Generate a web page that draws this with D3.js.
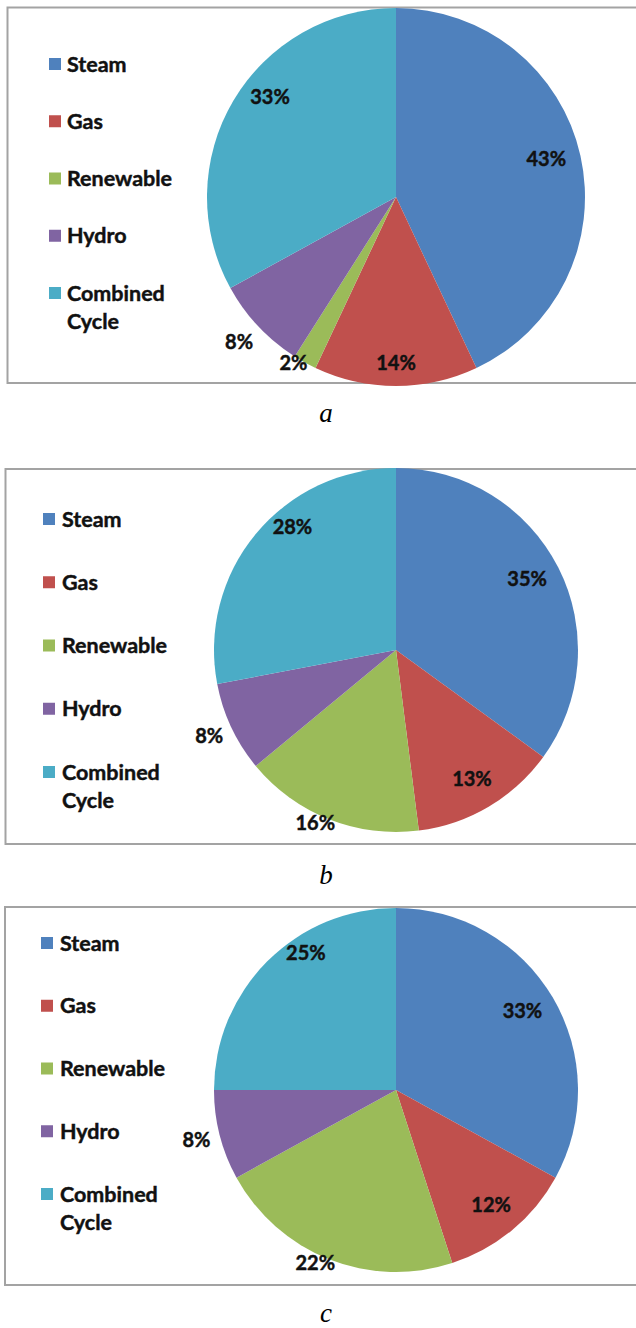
<!DOCTYPE html>
<html>
<head>
<meta charset="utf-8">
<script src="https://cdn.jsdelivr.net/npm/d3@7"></script>
<style>
  html, body { margin: 0; padding: 0; background: #fff; }
  svg { display: block; }
</style>
</head>
<body>
<svg id="chart" width="636" height="1328"></svg>
<script>
// ---- data ----
const categories = ["Steam", "Gas", "Renewable", "Hydro", "Combined Cycle"];
const valuesA = [43, 14, 2, 8, 33];
const valuesB = [35, 13, 16, 8, 28];
const valuesC = [33, 12, 22, 8, 25];
const panelCaptions = ["a", "b", "c"];
const colors = ["#4F81BD", "#C0504D", "#9BBB59", "#8064A2", "#4BACC6"];

// ---- layout ----
const panels = [
  { values: valuesA, frameX: 7.5, frameY: 7.5, frameY2: 383, cx: 396, cy: 197, r: 189,
    legSqX: 49, legTextX: 67, legY0: 64, legStep: 57.25, capY: 422 },
  { values: valuesB, frameX: 5.5, frameY: 469, frameY2: 844, cx: 396, cy: 650, r: 182,
    legSqX: 43, legTextX: 62, legY0: 519, legStep: 63.25, capY: 884 },
  { values: valuesC, frameX: 5, frameY: 907, frameY2: 1285, cx: 396, cy: 1090, r: 182,
    legSqX: 41, legTextX: 60, legY0: 943, legStep: 62.75, capY: 1322 }
];

const svg = d3.select("#chart");
const color = d3.scaleOrdinal().domain(categories).range(colors);
const pie = d3.pie().sort(null).value(d => d.value);
const fontStack = "Lato, 'Open Sans', sans-serif";

panels.forEach((p, pi) => {
  const g = svg.append("g");
  // frame (right edge runs off the page)
  g.append("rect")
    .attr("x", p.frameX).attr("y", p.frameY)
    .attr("width", 660).attr("height", p.frameY2 - p.frameY)
    .attr("fill", "#fff").attr("stroke", "#A3A3A3").attr("stroke-width", 2);

  const data = categories.map((c, i) => ({ name: c, value: p.values[i] }));
  const arcs = pie(data);
  const arc = d3.arc().innerRadius(0).outerRadius(p.r);
  const pg = g.append("g").attr("transform", `translate(${p.cx},${p.cy})`);
  pg.selectAll("path").data(arcs).join("path")
    .attr("d", arc)
    .attr("fill", d => color(d.data.name));

  // labels (Excel "best fit"-like rule)
  const total = d3.sum(p.values);
  pg.selectAll("text.lbl").data(arcs).join("text")
    .attr("class", "lbl")
    .each(function (d) {
      const frac = d.data.value / total;
      let m = (d.startAngle + d.endAngle) / 2 * 180 / Math.PI;
      let f, a = m;
      if (frac < 0.05) { f = 1.03; a = m + 3; }
      else if (frac < 0.1) { f = 1.13; a = m + 0.5; }
      else if (m > 190 && m < 215) { f = 1.05; a = m + 3.4; }
      else if (m > 270) { f = 0.85 + Math.max(0, m - 300) * 0.0035; a = m + (m - 270) * 0.26; }
      else if (m > 165 && m <= 190) { f = 0.875; }
      else { f = 0.82; a = m < 90 ? m - 1.5 : m; }
      const rad = a * Math.PI / 180;
      d3.select(this)
        .attr("x", Math.sin(rad) * p.r * f)
        .attr("y", -Math.cos(rad) * p.r * f);
    })
    .attr("text-anchor", "middle")
    .attr("dy", "0.36em")
    .attr("font-family", fontStack)
    .attr("font-weight", "bold")
    .attr("font-size", 20)
    .attr("fill", "#111")
    .attr("stroke", "#111").attr("stroke-width", 0.45)
    .text(d => d3.format(".0%")(d.data.value / total));

  // legend
  const lg = g.append("g");
  categories.forEach((c, i) => {
    const y = p.legY0 + i * p.legStep;
    lg.append("rect")
      .attr("x", p.legSqX).attr("y", y - 6)
      .attr("width", 12).attr("height", 12)
      .attr("fill", color(c));
    const words = c.split(" ");
    const t = lg.append("text")
      .attr("x", p.legTextX).attr("y", y)
      .attr("font-family", fontStack)
      .attr("font-weight", "bold")
      .attr("font-size", 21.5)
      .attr("fill", "#111")
      .attr("stroke", "#111").attr("stroke-width", 0.45);
    words.forEach((w, wi) => {
      t.append("tspan").attr("x", p.legTextX)
        .attr("dy", wi === 0 ? "0.36em" : "28.5")
        .text(w);
    });
  });

  // caption
  svg.append("text")
    .attr("x", 326).attr("y", p.capY)
    .attr("text-anchor", "middle")
    .attr("font-family", "'Liberation Serif', 'Times New Roman', serif")
    .attr("font-style", "italic")
    .attr("font-size", 27)
    .attr("fill", "#000")
    .text(panelCaptions[pi]);
});
</script>
</body>
</html>
